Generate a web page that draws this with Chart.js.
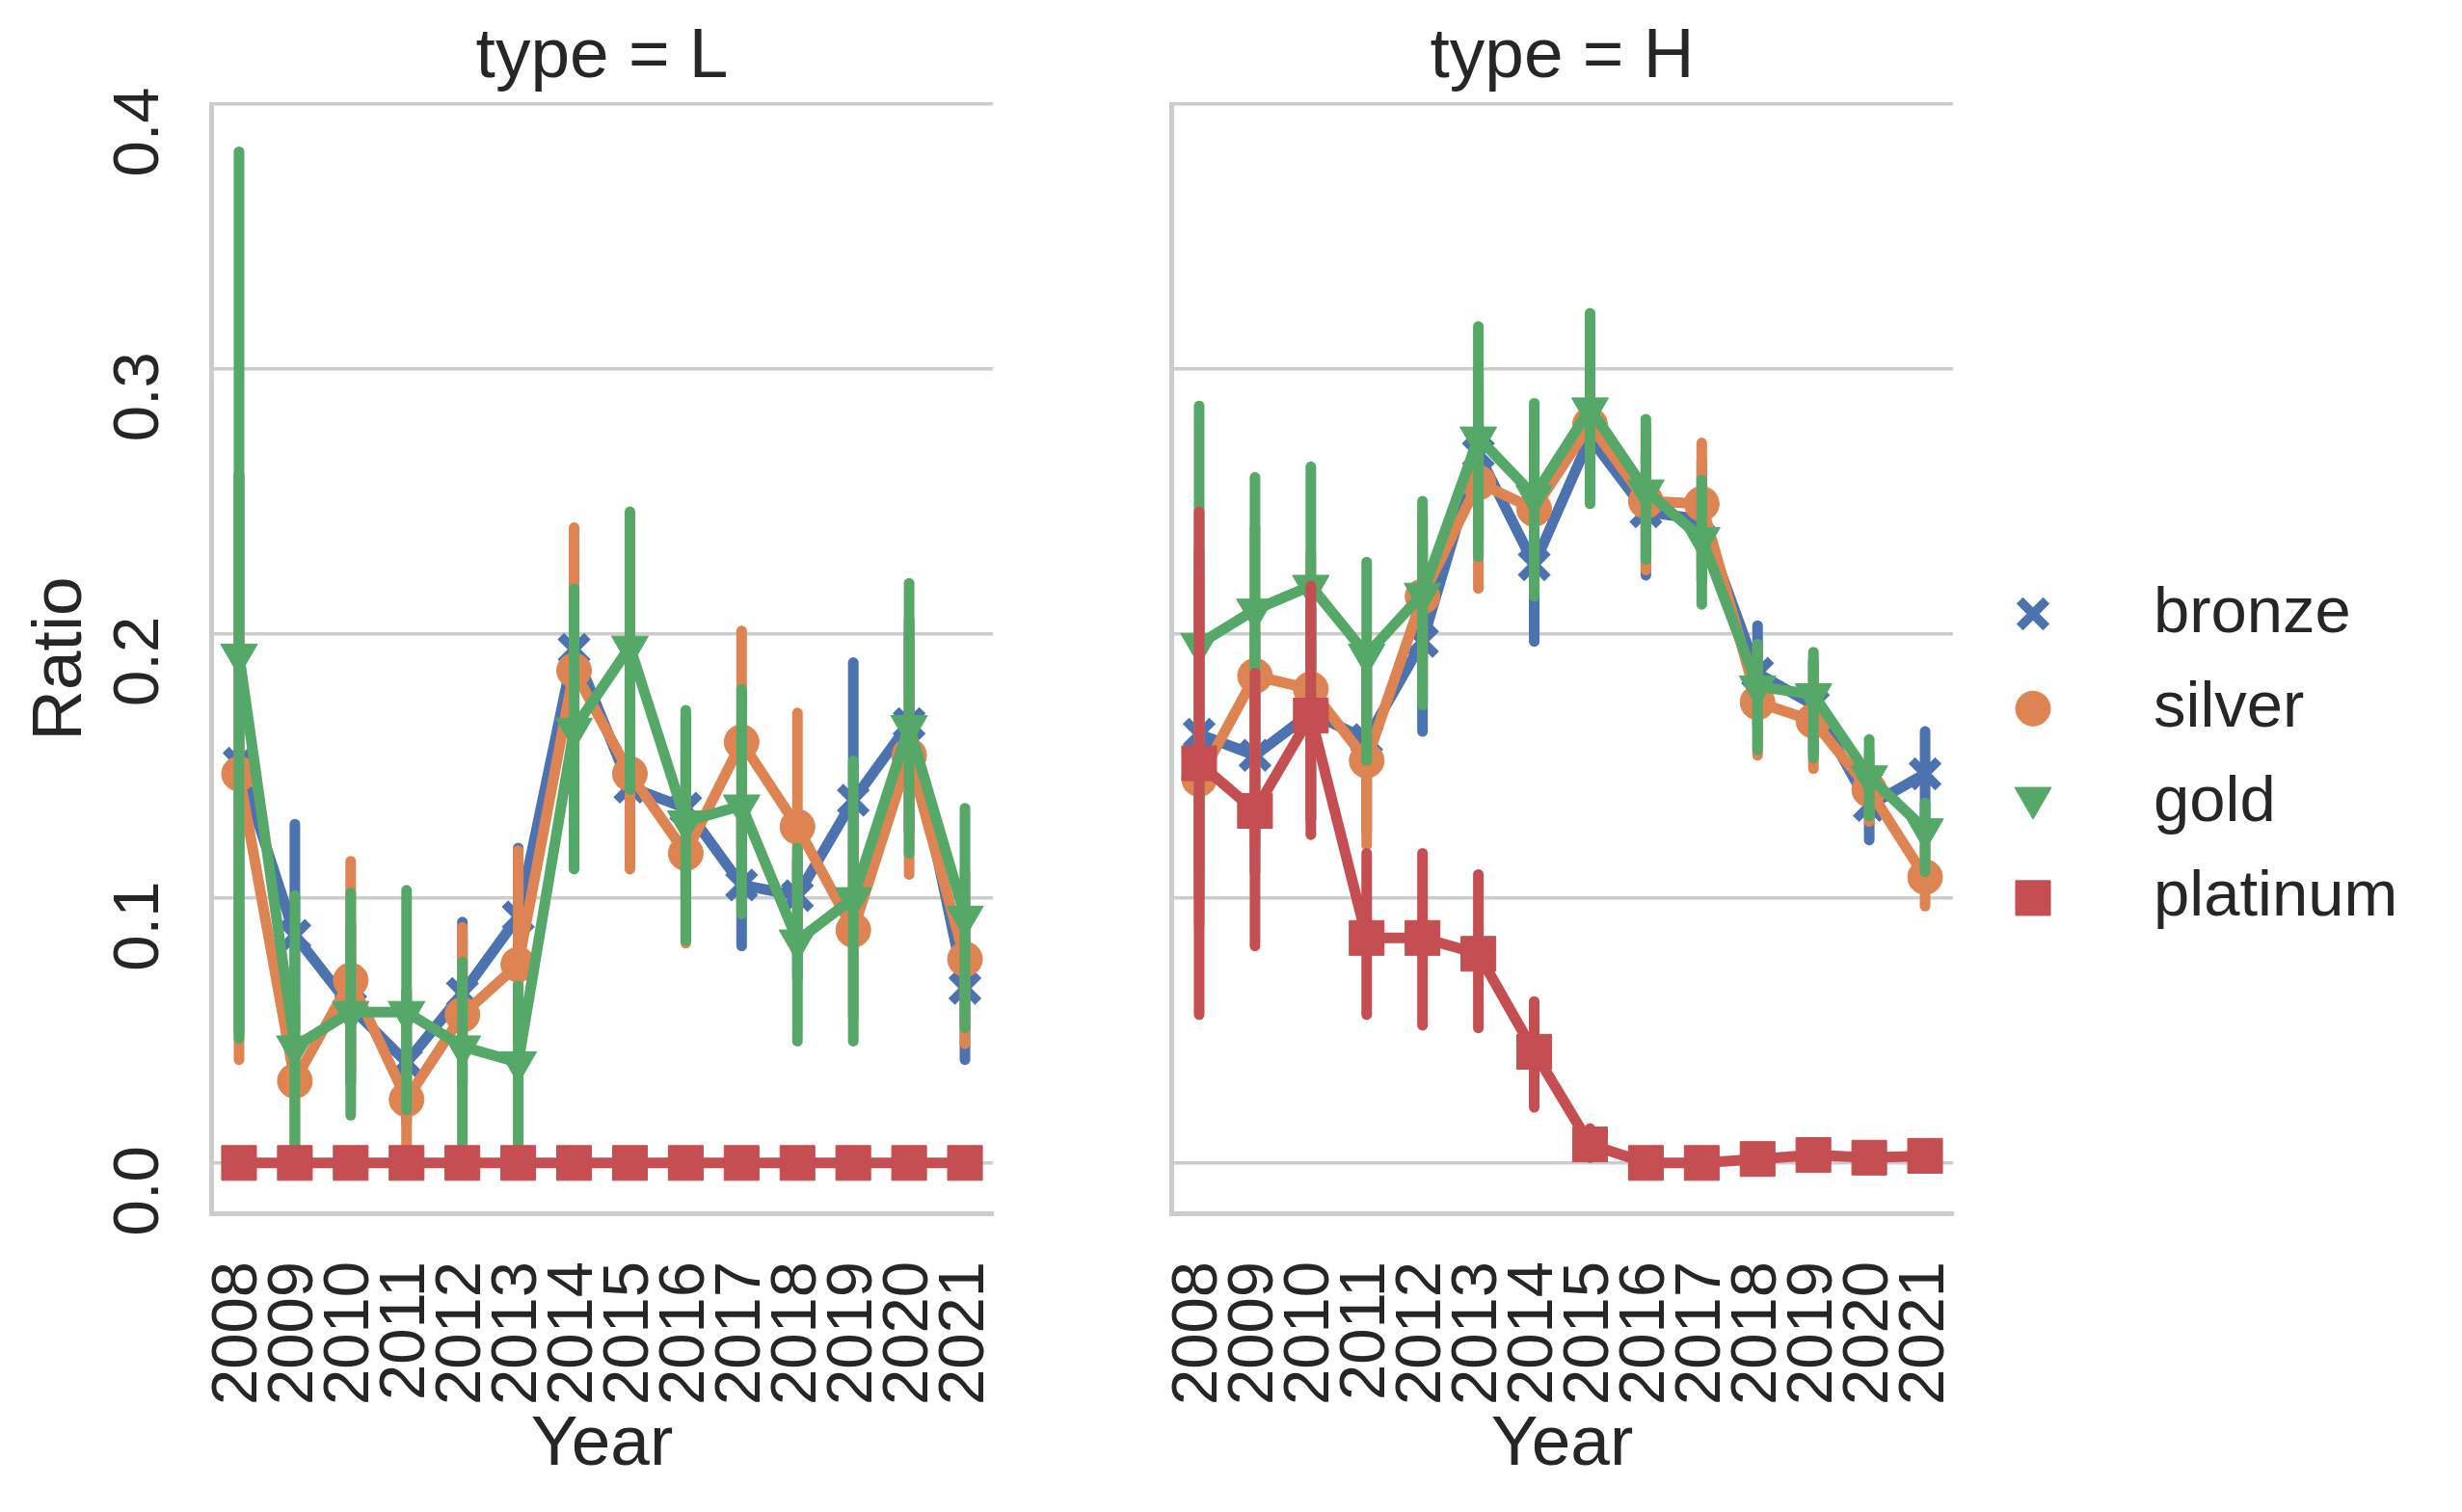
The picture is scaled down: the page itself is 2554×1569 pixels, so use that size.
<!DOCTYPE html>
<html>
<head>
<meta charset="utf-8">
<script src="https://cdn.jsdelivr.net/npm/chart.js@4.4.1/dist/chart.umd.min.js"></script>
<style>
  html, body { margin: 0; padding: 0; background: #fff; }
  body { width: 2554px; height: 1569px; position: relative; overflow: hidden; }
  canvas { position: absolute; top: 0; }
  #chartL { left: 0; }
  #chartH { left: 1100px; }
</style>
</head>
<body>
<canvas id="chartL" width="1080" height="1569"></canvas>
<canvas id="chartH" width="1454" height="1569"></canvas>
<script>
// DATA
const years = ["2008", "2009", "2010", "2011", "2012", "2013", "2014",
               "2015", "2016", "2017", "2018", "2019", "2020", "2021"];
const yTicks = [0, 0.1, 0.2, 0.3, 0.4];
const series = ["bronze", "silver", "gold", "platinum"];

// type = L
const bronzeL     = [0.151, 0.086, 0.059, 0.038, 0.064, 0.093, 0.194, 0.142, 0.134, 0.105, 0.101, 0.137, 0.166, 0.066];
const bronzeLLow  = [0.050, 0.050, 0.030, 0.015, 0.040, 0.068, 0.150, 0.115, 0.100, 0.082, 0.070, 0.095, 0.125, 0.039];
const bronzeLHigh = [0.260, 0.128, 0.090, 0.065, 0.091, 0.119, 0.215, 0.175, 0.168, 0.130, 0.115, 0.189, 0.205, 0.095];

const silverL     = [0.147, 0.031, 0.069, 0.024, 0.056, 0.075, 0.186, 0.147, 0.117, 0.159, 0.127, 0.088, 0.154, 0.077];
const silverLLow  = [0.039, 0.005, 0.035, 0.000, 0.030, 0.045, 0.140, 0.111, 0.083, 0.120, 0.090, 0.055, 0.109, 0.045];
const silverLHigh = [0.260, 0.060, 0.114, 0.050, 0.089, 0.118, 0.240, 0.185, 0.155, 0.201, 0.170, 0.125, 0.200, 0.110];

const goldL     = [0.192, 0.044, 0.057, 0.057, 0.044, 0.038, 0.164, 0.195, 0.129, 0.135, 0.084, 0.100, 0.165, 0.093];
const goldLLow  = [0.047, 0.000, 0.018, 0.020, 0.000, 0.000, 0.111, 0.141, 0.084, 0.094, 0.046, 0.046, 0.117, 0.051];
const goldLHigh = [0.382, 0.101, 0.102, 0.103, 0.076, 0.067, 0.217, 0.246, 0.171, 0.179, 0.119, 0.152, 0.219, 0.134];

const platinumL     = [0, 0, 0, 0, 0, 0, 0, 0, 0, 0, 0, 0, 0, 0];
const platinumLLow  = [0, 0, 0, 0, 0, 0, 0, 0, 0, 0, 0, 0, 0, 0];
const platinumLHigh = [0, 0, 0, 0, 0, 0, 0, 0, 0, 0, 0, 0, 0, 0];

// type = H
const bronzeH     = [0.162, 0.154, 0.170, 0.160, 0.197, 0.268, 0.226, 0.274, 0.246, 0.243, 0.185, 0.173, 0.135, 0.147];
const bronzeHLow  = [0.100, 0.110, 0.130, 0.125, 0.163, 0.235, 0.197, 0.255, 0.222, 0.220, 0.165, 0.155, 0.122, 0.130];
const bronzeHHigh = [0.230, 0.200, 0.210, 0.190, 0.235, 0.300, 0.255, 0.295, 0.268, 0.265, 0.203, 0.190, 0.150, 0.163];

const silverH     = [0.145, 0.184, 0.179, 0.152, 0.214, 0.257, 0.247, 0.279, 0.250, 0.249, 0.174, 0.167, 0.141, 0.108];
const silverHLow  = [0.090, 0.120, 0.130, 0.120, 0.180, 0.217, 0.215, 0.250, 0.224, 0.225, 0.154, 0.149, 0.129, 0.097];
const silverHHigh = [0.220, 0.240, 0.230, 0.190, 0.245, 0.290, 0.275, 0.300, 0.275, 0.272, 0.195, 0.188, 0.155, 0.120];

const goldH     = [0.196, 0.209, 0.218, 0.192, 0.215, 0.274, 0.252, 0.285, 0.254, 0.236, 0.180, 0.177, 0.146, 0.126];
const goldHLow  = [0.110, 0.160, 0.170, 0.152, 0.173, 0.229, 0.214, 0.249, 0.228, 0.211, 0.156, 0.153, 0.131, 0.110];
const goldHHigh = [0.286, 0.259, 0.263, 0.227, 0.250, 0.316, 0.287, 0.321, 0.281, 0.258, 0.196, 0.193, 0.160, 0.136];

const platinumH     = [0.151, 0.133, 0.169, 0.085, 0.085, 0.079, 0.042, 0.007, 0.000, 0.000, 0.0015, 0.003, 0.002, 0.0027];
const platinumHLow  = [0.056, 0.082, 0.124, 0.056, 0.052, 0.051, 0.021, 0.002, 0.000, 0.000, 0.000, 0.001, 0.000, 0.001];
const platinumHHigh = [0.246, 0.185, 0.218, 0.117, 0.117, 0.109, 0.061, 0.013, 0.000, 0.000, 0.003, 0.005, 0.004, 0.005];

// STYLE
const TEXT = "#262626";
const GRID = "#cccccc";
const LINE_W = 11;
const STYLE = {
    bronze:   { color: "#4C72B0", pointStyle: "crossRot", radius: 19.5, border: 9.5, rotation: 0,   order: 4 },
    silver:   { color: "#DD8452", pointStyle: "circle",   radius: 18,   border: 1,   rotation: 0,   order: 3 },
    gold:     { color: "#55A868", pointStyle: "triangle", radius: 22,   border: 1,   rotation: 180, order: 2 },
    platinum: { color: "#C44E52", pointStyle: "rect",     radius: 25.5, border: 1,   rotation: 0,   order: 1 }
};

Chart.defaults.font.family = "'Liberation Sans', Arial, sans-serif";
Chart.defaults.color = TEXT;

// BUILD DATASET
function makeDataset(name, values, low, high) {
    const st = STYLE[name];
    return {
        label: name,
        data: values,
        errLow: low,
        errHigh: high,
        order: st.order,
        borderColor: st.color,
        backgroundColor: st.color,
        borderWidth: LINE_W,
        borderJoinStyle: "round",
        borderCapStyle: "round",
        tension: 0,
        pointStyle: st.pointStyle,
        pointRadius: st.radius,
        pointRotation: st.rotation,
        pointBorderWidth: st.border,
        pointBackgroundColor: st.color,
        pointBorderColor: st.color
    };
}

// ERROR BARS (drawn under each series' line and markers)
const errorBars = {
    id: "errorBars",
    beforeDatasetDraw(chart, args) {
        const ds = chart.data.datasets[args.index];
        if (!ds.errLow) return;
        const yScale = chart.scales.y;
        const ctx = chart.ctx;
        ctx.save();
        ctx.strokeStyle = ds.borderColor;
        ctx.lineWidth = LINE_W;
        ctx.lineCap = "round";
        args.meta.data.forEach((pt, i) => {
            const lo = ds.errLow[i];
            const hi = ds.errHigh[i];
            if (lo === hi) return;
            ctx.beginPath();
            ctx.moveTo(pt.x, yScale.getPixelForValue(lo));
            ctx.lineTo(pt.x, yScale.getPixelForValue(hi));
            ctx.stroke();
        });
        ctx.restore();
    }
};

// SIDE LEGEND (right of the H panel)
const LEGEND_X = 1009;
const LEGEND_TEXT_X = 1134;
const LEGEND_TOP = 637;
const LEGEND_STEP = 98.3;

const sideLegend = {
    id: "sideLegend",
    afterDraw(chart) {
        const ctx = chart.ctx;
        series.forEach((name, i) => {
            const st = STYLE[name];
            const y = LEGEND_TOP + i * LEGEND_STEP;
            ctx.save();
            ctx.fillStyle = st.color;
            ctx.strokeStyle = st.color;
            ctx.lineWidth = st.border;
            const py = st.pointStyle === "triangle" ? y - st.radius / 4 : y;
            Chart.helpers.drawPoint(ctx, {
                pointStyle: st.pointStyle,
                rotation: st.rotation,
                radius: st.radius,
                borderWidth: st.border
            }, LEGEND_X, py);
            ctx.fillStyle = TEXT;
            ctx.font = "67px 'Liberation Sans', Arial, sans-serif";
            ctx.textAlign = "left";
            ctx.textBaseline = "alphabetic";
            ctx.fillText(name, LEGEND_TEXT_X, y + 18.5);
            ctx.restore();
        });
    }
};

function zeroPadding(s) {
    s.paddingLeft = 0;
    s.paddingRight = 0;
    s.paddingTop = 0;
    s.paddingBottom = 0;
}

// OPTIONS
function makeOptions(title, showY, yWidth, padRight) {
    return {
        responsive: false,
        animation: false,
        events: [],
        layout: { padding: { left: 0, right: padRight, top: 0, bottom: 0 } },
        plugins: {
            legend: { display: false },
            tooltip: { enabled: false },
            title: {
                display: true,
                text: title,
                fullSize: false,
                color: TEXT,
                font: { size: 73, weight: "normal" },
                padding: { top: 16.2, bottom: 4.2 }
            }
        },
        scales: {
            x: {
                type: "category",
                offset: true,
                grid: { display: false, drawTicks: false },
                border: { display: true, color: GRID, width: 5 },
                ticks: {
                    autoSkip: false,
                    minRotation: 90,
                    maxRotation: 90,
                    padding: 50,
                    color: TEXT,
                    font: { size: 67 }
                },
                title: {
                    display: true,
                    text: "Year",
                    color: TEXT,
                    font: { size: 73 },
                    padding: { top: 0, bottom: 25 }
                },
                afterFit(s) {
                    s.height = 310;
                    zeroPadding(s);
                }
            },
            y: {
                min: -0.019,
                max: 0.4,
                afterBuildTicks(s) {
                    s.ticks = yTicks.map(v => ({ value: v }));
                },
                grid: { color: GRID, lineWidth: 3.5, drawTicks: false },
                border: { display: true, color: GRID, width: 5 },
                ticks: {
                    display: showY,
                    minRotation: 90,
                    maxRotation: 90,
                    crossAlign: "center",
                    labelOffset: 29,
                    padding: 27,
                    color: TEXT,
                    font: { size: 67 },
                    callback: v => Number(v).toFixed(1)
                },
                title: {
                    display: showY,
                    text: "Ratio",
                    color: TEXT,
                    font: { size: 73 },
                    padding: { top: 19.7, bottom: 0 }
                },
                afterFit(s) {
                    s.width = yWidth;
                    zeroPadding(s);
                }
            }
        }
    };
}

// DRAW L
new Chart(document.getElementById("chartL"), {
    type: "line",
    data: {
        labels: years,
        datasets: [
            makeDataset("bronze", bronzeL, bronzeLLow, bronzeLHigh),
            makeDataset("silver", silverL, silverLLow, silverLHigh),
            makeDataset("gold", goldL, goldLLow, goldLHigh),
            makeDataset("platinum", platinumL, platinumLLow, platinumLHigh)
        ]
    },
    options: makeOptions("type = L", true, 219, 50),
    plugins: [errorBars]
});

// DRAW H
new Chart(document.getElementById("chartH"), {
    type: "line",
    data: {
        labels: years,
        datasets: [
            makeDataset("bronze", bronzeH, bronzeHLow, bronzeHHigh),
            makeDataset("silver", silverH, silverHLow, silverHHigh),
            makeDataset("gold", goldH, goldHLow, goldHHigh),
            makeDataset("platinum", platinumH, platinumHLow, platinumHHigh)
        ]
    },
    options: makeOptions("type = H", false, 115, 528),
    plugins: [errorBars, sideLegend]
});
</script>
</body>
</html>
